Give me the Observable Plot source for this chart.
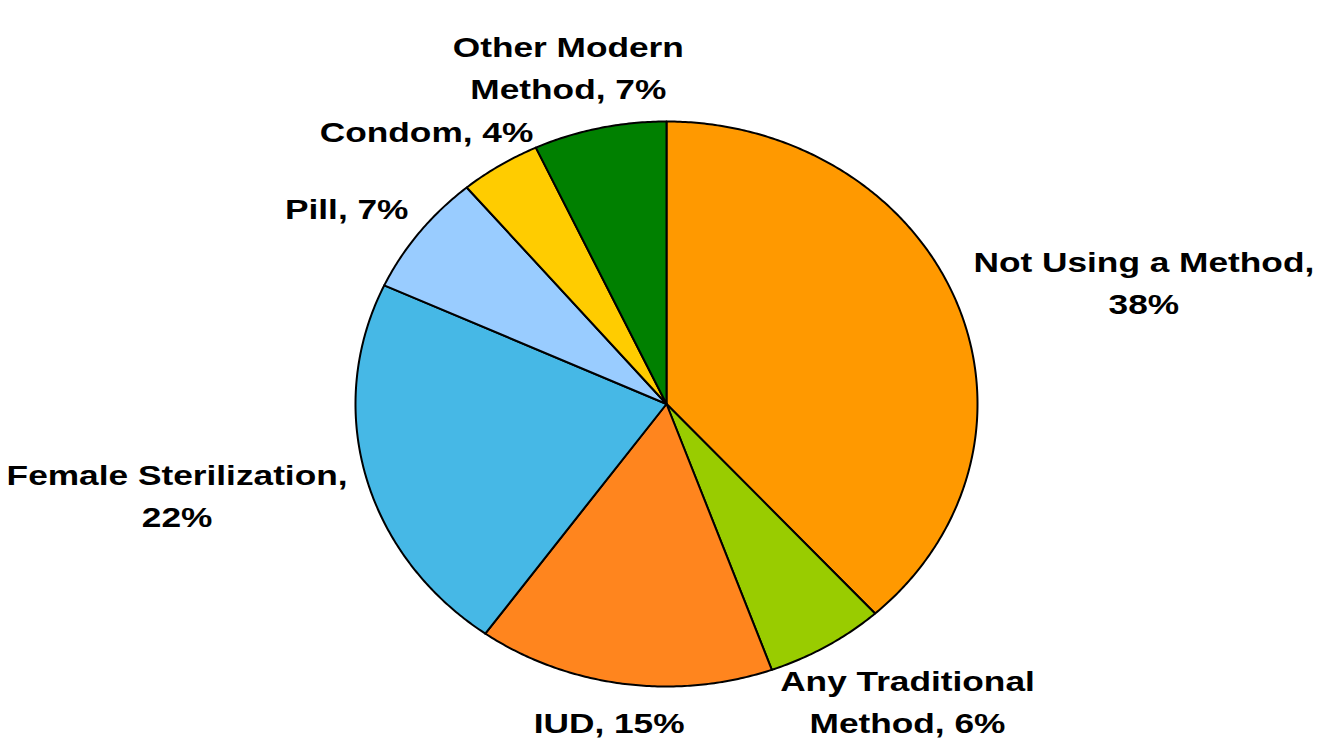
<!DOCTYPE html>
<html>
<head>
<meta charset="utf-8">
<script src="https://cdn.jsdelivr.net/npm/d3@7"></script>
<script src="https://cdn.jsdelivr.net/npm/@observablehq/plot@0.6"></script>
<style>
  html, body { margin: 0; padding: 0; background: #ffffff; }
  #chart { width: 1322px; height: 741px; }
</style>
</head>
<body>
<div id="chart"></div>
<script>
// ---- data ----
const categories = ["Not Using a Method", "Any Traditional Method", "IUD", "Female Sterilization", "Pill", "Condom", "Other Modern Method"];
const values = [38.3, 6.2, 15.4, 22.0, 7.0, 4.2, 6.9];
const labelTexts = ["Not Using a Method,\n38%", "Any Traditional\nMethod, 6%", "IUD, 15%", "Female Sterilization,\n22%", "Pill, 7%", "Condom, 4%", "Other Modern\nMethod, 7%"];
const colors = ["#FF9900", "#99CC00", "#FF851E", "#46B8E6", "#99CCFF", "#FFCC00", "#008000"];

// ---- layout ----
const W = 1322, H = 741;
const xRange = [355, 977], yRange = [686, 121];
const cx0 = (xRange[0] + xRange[1]) / 2, cy0 = (yRange[0] + yRange[1]) / 2;
const rx = (xRange[1] - xRange[0]) / 2, ry = (yRange[0] - yRange[1]) / 2;
const fontSize = 28, lineHeight = 1.5, stretch = 1.26, pad = 30;
const fontFamily = "'Liberation Sans', Arial, Helvetica, sans-serif";

// pie angles (clockwise from 12 o'clock)
const pie = d3.pie().sort(null).value(d => d)(values);

const slicePts = [];
pie.forEach((p, i) => {
  const n = Math.max(8, Math.ceil((p.endAngle - p.startAngle) / (Math.PI / 360)));
  slicePts.push({cat: categories[i], color: colors[i], x: 0, y: 0});
  for (let k = 0; k <= n; k++) {
    const a = p.startAngle + (p.endAngle - p.startAngle) * k / n;
    slicePts.push({cat: categories[i], color: colors[i], x: Math.sin(a), y: Math.cos(a)});
  }
  slicePts.push({cat: categories[i], color: colors[i], x: 0, y: 0});
});

// label placement computed from mid-angle and text size, kept inside the frame
const ctx = document.createElement("canvas").getContext("2d");
ctx.font = `bold ${fontSize}px ${fontFamily}`;
const labels = pie.map((p, i) => {
  const a = (p.startAngle + p.endAngle) / 2;
  const s = Math.sin(a), c = Math.cos(a);
  const lines = labelTexts[i].split("\n");
  const w = d3.max(lines, l => ctx.measureText(l).width) * stretch;
  const h = lines.length * fontSize * lineHeight - fontSize * 0.5;
  const ex = rx * s, ey = -ry * c;           // pixel offset of edge point (y down)
  let px = cx0 + ex + s * pad + s * w / 2;
  let py = cy0 + ey - c * pad - c * h / 2;
  const halfW = w / 2 + 6;
  const halfH = (lines.length - 1) * fontSize * lineHeight / 2 + fontSize * 0.8;
  px = Math.max(halfW, Math.min(W - halfW, px));
  py = Math.max(halfH, Math.min(H - halfH, py));
  return {text: labelTexts[i], x: (px - cx0) / rx, y: -(py - cy0) / ry};
});

const chart = Plot.plot({
  width: W,
  height: H,
  margin: 0,
  x: {domain: [-1, 1], range: xRange, axis: null},
  y: {domain: [-1, 1], range: yRange, axis: null},
  color: {type: "identity"},
  style: {background: "#ffffff"},
  marks: [
    Plot.line(slicePts, {x: "x", y: "y", z: "cat", fill: "color", stroke: "#000000", strokeWidth: 2, strokeLinejoin: "round", curve: "linear"}),
    Plot.text(labels, {x: "x", y: "y", text: "text", fontSize, fontWeight: "bold", fontFamily, fill: "#000000", lineHeight, lineAnchor: "middle", textAnchor: "middle"})
  ]
});

// stretch label text horizontally like the reference
d3.select(chart).selectAll("text").each(function() {
  const el = this;
  let t = el.getAttribute("transform");
  if (!t) {
    const x = +(el.getAttribute("x") || 0), y = +(el.getAttribute("y") || 0);
    el.removeAttribute("x"); el.removeAttribute("y");
    t = `translate(${x},${y})`;
  }
  el.setAttribute("transform", t + ` scale(${stretch},1)`);
});

document.getElementById("chart").appendChild(chart);
</script>
</body>
</html>
